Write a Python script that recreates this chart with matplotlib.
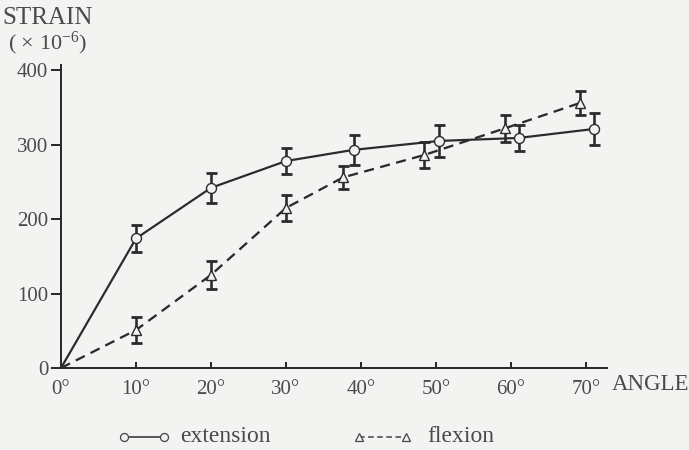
import matplotlib
matplotlib.use("Agg")
import matplotlib.pyplot as plt
from matplotlib.lines import Line2D

# Strain (x10^-6) versus joint angle, mean with error bars
ext_angle = [0, 10, 20, 30, 39, 50.4, 61, 71]
ext_strain = [0, 174, 242, 278, 293, 305, 309, 321]
ext_err = [0, 18, 20, 18, 20, 21, 17, 21]

flex_angle = [0, 10, 20, 30, 37.6, 48.4, 59.2, 69.2]
flex_strain = [0, 51, 125, 215, 256, 286, 322, 356]
flex_err = [0, 18, 19, 17, 15, 17, 18, 16]

x_ticks = [0, 10, 20, 30, 40, 50, 60, 70]
x_labels = ["0°", "10°", "20°", "30°", "40°", "50°", "60°", "70°"]
y_ticks = [0, 100, 200, 300, 400]

BG = "#f3f3f2"
INK = "#2b2b2b"
TXT = "#4a4a4a"

plt.rcParams["font.family"] = ["Liberation Serif", "DejaVu Serif"]
plt.rcParams["mathtext.fontset"] = "custom"
plt.rcParams["mathtext.rm"] = "Liberation Serif"
plt.rcParams["mathtext.it"] = "Liberation Serif:italic"

fig = plt.figure(figsize=(6.89, 4.50), dpi=100, facecolor=BG)
ax = fig.add_axes([61 / 689, 82 / 450, 546 / 689, 303 / 450])
ax.set_facecolor(BG)

px = 0.72  # points per pixel at 100 dpi

# extension: solid line with open circles
ax.plot(ext_angle, ext_strain, color=INK, lw=2.2 * px, zorder=2,
        solid_capstyle="butt")
ax.errorbar(ext_angle[1:], ext_strain[1:], yerr=ext_err[1:], fmt="none",
            ecolor=INK, elinewidth=2.6 * px, capsize=5.5 * px,
            capthick=2.8 * px, zorder=3)
ax.plot(ext_angle[1:], ext_strain[1:], "o", ms=10 * px, mfc=BG, mec=INK,
        mew=1.4 * px, zorder=4)

# flexion: dashed line with open triangles
ax.plot(flex_angle, flex_strain, color=INK, lw=2.3 * px, zorder=2,
        dashes=(4.4, 2.8))
ax.errorbar(flex_angle[1:], flex_strain[1:], yerr=flex_err[1:], fmt="none",
            ecolor=INK, elinewidth=2.6 * px, capsize=5.5 * px,
            capthick=2.8 * px, zorder=3)
ax.plot(flex_angle[1:], flex_strain[1:], "^", ms=10 * px, mfc=BG, mec=INK,
        mew=1.4 * px, zorder=4)

ax.set_xlim(0, 72.8)
ax.set_ylim(0, 407)

for s in ["top", "right"]:
    ax.spines[s].set_visible(False)
for s in ["left", "bottom"]:
    ax.spines[s].set_color(INK)
    ax.spines[s].set_linewidth(2.0 * px)

ax.set_xticks(x_ticks)
ax.set_xticklabels(x_labels)
ax.set_yticks(y_ticks)
ax.tick_params(axis="x", direction="in", length=6 * px, width=2.0 * px,
               color=INK, labelsize=15, labelcolor=TXT, pad=9)
ax.tick_params(axis="y", direction="out", length=10 * px, width=2.0 * px,
               color=INK, labelsize=15, labelcolor=TXT, pad=2)

# axis titles
fig.text(612 / 689, 1 - 385 / 450, "ANGLE", fontsize=16.5, color=TXT,
         ha="left", va="center")
fig.text(2 / 689, 1 - 24 / 450, "STRAIN", fontsize=18, color=TXT,
         ha="left", va="baseline")
fig.text(8 / 689, 1 - 49 / 450, r"( $\times$ 10$^{-6}$)", fontsize=16,
         color=TXT, ha="left", va="baseline")

# legend drawn in figure pixels
def fx(v):
    return v / 689


def fy(v):
    return 1 - v / 450


ly = 437
fig.add_artist(Line2D([fx(124), fx(164)], [fy(ly), fy(ly)], color=TXT,
                      lw=1.8 * px, marker="o", ms=8 * px, mfc=BG, mec=TXT,
                      mew=1.3 * px))
fig.text(fx(180), fy(ly), "extension", fontsize=17, color=TXT,
         ha="left", va="center")
fig.add_artist(Line2D([fx(359), fx(406)], [fy(ly), fy(ly)], color=TXT,
                      lw=1.6 * px, dashes=(3.5, 2.2), marker="^", ms=8 * px,
                      mfc=BG, mec=TXT, mew=1.3 * px))
fig.text(fx(427), fy(ly), "flexion", fontsize=17, color=TXT,
         ha="left", va="center")

fig.savefig("out.png", dpi=100, facecolor=BG)
